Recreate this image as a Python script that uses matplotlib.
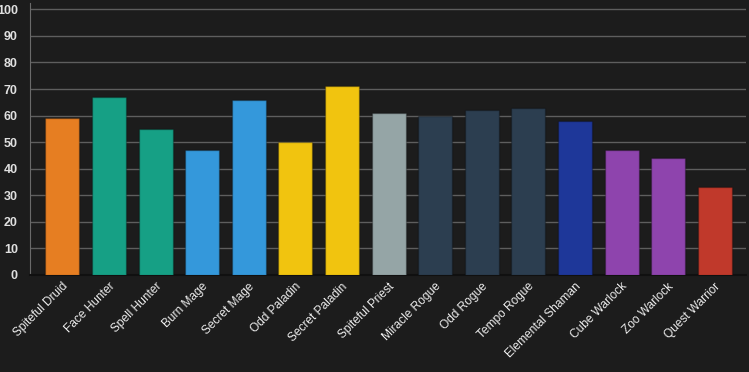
import matplotlib.pyplot as plt
from matplotlib.transforms import ScaledTranslation

decks = ['Spiteful Druid', 'Face Hunter', 'Spell Hunter', 'Burn Mage', 'Secret Mage',
         'Odd Paladin', 'Secret Paladin', 'Spiteful Priest', 'Miracle Rogue', 'Odd Rogue',
         'Tempo Rogue', 'Elemental Shaman', 'Cube Warlock', 'Zoo Warlock', 'Quest Warrior']
winrates = [59, 67, 55, 47, 66, 50, 71, 61, 60, 62, 63, 58, 47, 44, 33]
colors = ['#e67e22', '#16a085', '#16a085', '#3498db', '#3498db', '#f1c40f', '#f1c40f',
          '#95a5a6', '#2c3e50', '#2c3e50', '#2c3e50', '#1e3799', '#8e44ad', '#8e44ad',
          '#c0392b']

bg = '#1c1c1c'
fig = plt.figure(figsize=(7.49, 3.72), dpi=100, facecolor=bg)
ax = fig.add_axes([0.0405, 0.2608, 0.9555, 0.7312], facecolor=bg)

x = range(len(decks))
ax.bar(x, winrates, width=0.73, color=colors, linewidth=1, zorder=3)
for b in ax.patches:
    b.set_edgecolor((0, 0, 0, 0.25))

ax.set_xlim(-0.69, 14.67)
ax.set_ylim(0, 102.4)
ax.set_yticks(range(0, 101, 10))
ax.yaxis.grid(True, color='#5e5e5e', linewidth=1, zorder=0)
ax.tick_params(axis='y', length=0, pad=9, colors='#e0e0e0', labelsize=9)
for lab in ax.get_yticklabels():
    lab.set_fontweight('bold')
    lab.set_family('Liberation Sans')

ax.set_xticks(list(x))
ax.set_xticklabels(decks, rotation=45, ha='right', va='center', rotation_mode='anchor',
                   fontsize=8.6, color='#ececec', family='Liberation Sans')
ax.tick_params(axis='x', length=0, pad=7)
shift = ScaledTranslation(4 / 100, 0, fig.dpi_scale_trans)
for lab in ax.get_xticklabels():
    lab.set_transform(lab.get_transform() + shift)

for s in ['top', 'right']:
    ax.spines[s].set_visible(False)
ax.spines['left'].set_color('#6a6a6a')
ax.spines['bottom'].set_color('#101010')
ax.spines['bottom'].set_linewidth(1.5)

fig.savefig('out.png', dpi=100, facecolor=bg)
